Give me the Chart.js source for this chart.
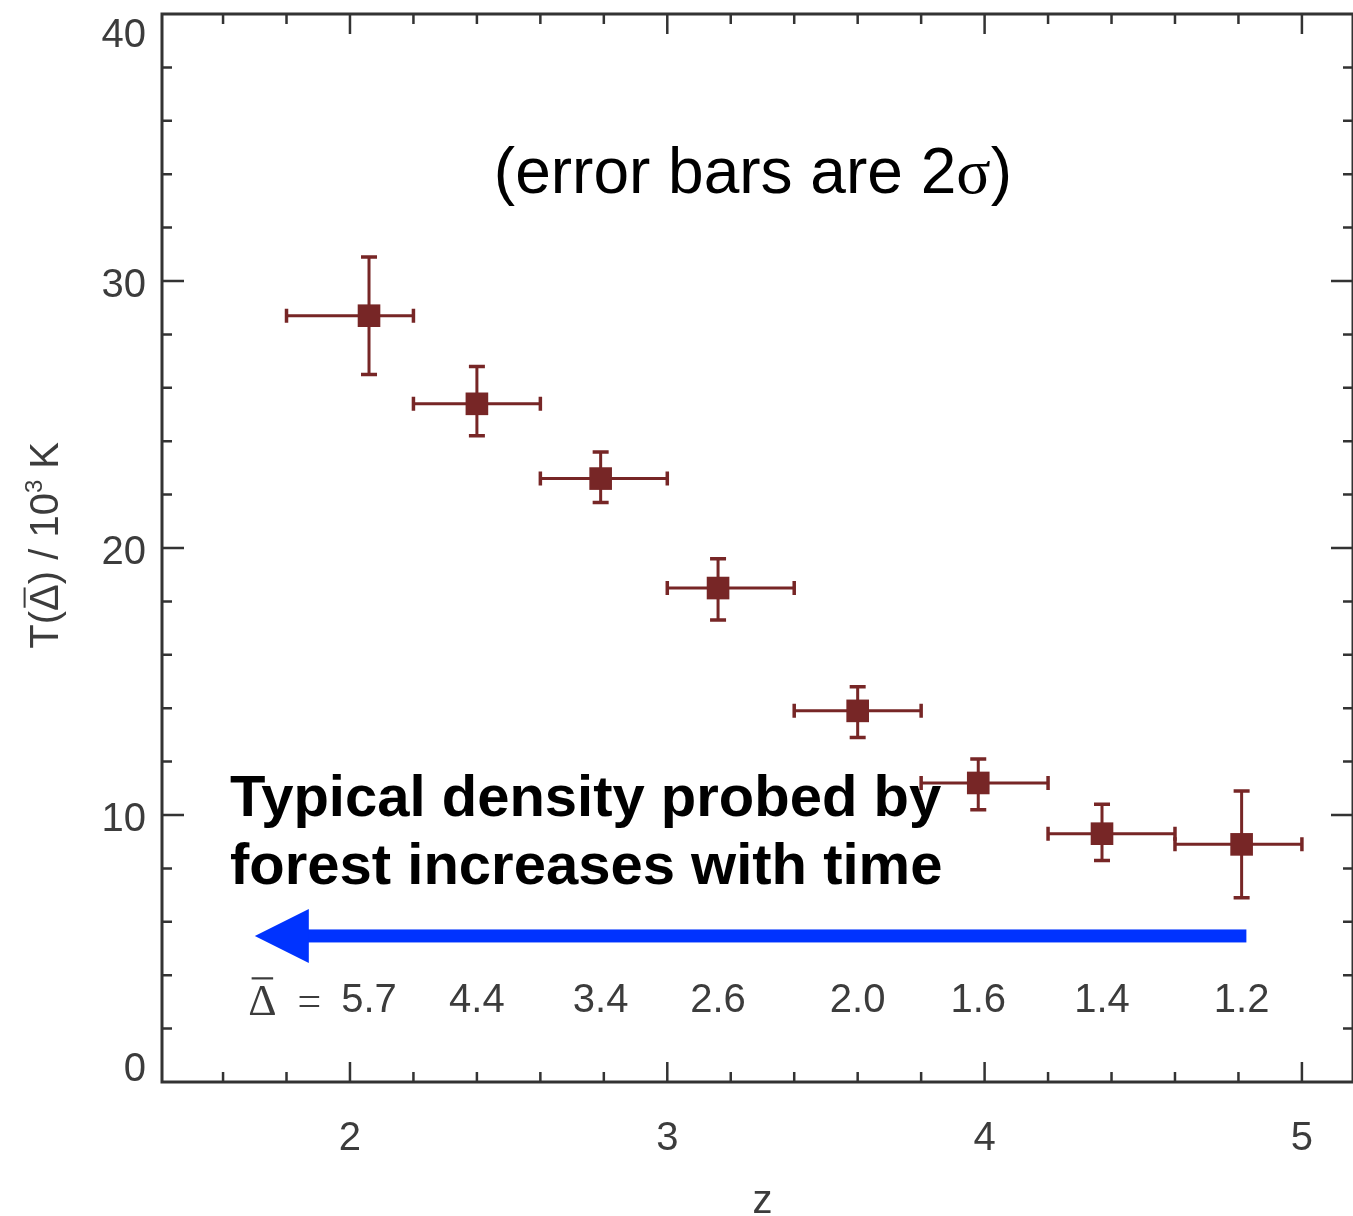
<!DOCTYPE html>
<html>
<head>
<meta charset="utf-8">
<script src="https://cdn.jsdelivr.net/npm/chart.js@4.4.0/dist/chart.umd.min.js"></script>
<style>
  html, body { margin: 0; padding: 0; background: #fff; overflow: hidden; }
  canvas { display: block; }
</style>
</head>
<body>
<canvas id="tempChart" width="1353" height="1216"></canvas>
<script>
// redshift of each bin and the bin edges
const zValues = [2.06, 2.40, 2.79, 3.16, 3.60, 3.98, 4.37, 4.81];
const zLow = [1.8, 2.2, 2.6, 3.0, 3.4, 3.8, 4.2, 4.6];
const zHigh = [2.2, 2.6, 3.0, 3.4, 3.8, 4.2, 4.6, 5.0];

// temperature in 10^3 K, with the 2 sigma limits
const tempValues = [28.7, 25.4, 22.6, 18.5, 13.9, 11.2, 9.3, 8.9];
const tempLow = [26.5, 24.2, 21.7, 17.3, 12.9, 10.2, 8.3, 6.9];
const tempHigh = [30.9, 26.8, 23.6, 19.6, 14.8, 12.1, 10.4, 10.9];

// typical overdensity probed in each bin
const deltaLabels = ['5.7', '4.4', '3.4', '2.6', '2.0', '1.6', '1.4', '1.2'];

// axis ticks
const xTickValues = [2, 3, 4, 5];
const xTickLabels = ['2', '3', '4', '5'];
const yTickValues = [0, 10, 20, 30, 40];
const yTickLabels = ['0', '10', '20', '30', '40'];

const SANS = '"Liberation Sans", Arial, Helvetica, sans-serif';
const SERIF = '"Liberation Serif", "Times New Roman", serif';
const axisColor = '#333333';
const labelColor = '#3c3c3c';
const pointColor = '#772626';
const arrowColor = '#0033ff';

// draws a run of [text, font] pieces from x; '~D' means a barred Delta
function drawPieces(ctx, pieces, x, yBase) {
  pieces.forEach(([txt, font]) => {
    ctx.font = font;
    if (txt === '~D') {
      const w = ctx.measureText('\u0394').width;
      ctx.fillText('\u0394', x, yBase);
      const size = parseFloat(font.match(/(\d+)px/)[1]);
      ctx.fillRect(x + w * 0.12, yBase - size * 0.86, w * 0.76, Math.max(2, size * 0.05));
      x += w;
    } else {
      ctx.fillText(txt, x, yBase);
      x += ctx.measureText(txt).width;
    }
  });
  return x;
}

function piecesWidth(ctx, pieces) {
  let w = 0;
  pieces.forEach(([txt, font]) => {
    ctx.font = font;
    w += ctx.measureText(txt === '~D' ? '\u0394' : txt).width;
  });
  return w;
}

// box round the plot with inward ticks on all four sides
const framePlugin = {
  id: 'frame',
  beforeDatasetsDraw(chart) {
    const { ctx, chartArea: a, scales: { x, y } } = chart;
    ctx.save();
    ctx.strokeStyle = axisColor;
    ctx.lineWidth = 3;
    ctx.strokeRect(a.left, a.top, a.right - a.left, a.bottom - a.top);

    ctx.lineWidth = 2.5;
    // x: minor every 0.2, major every 1
    for (let i = 7; i <= 26; i++) {
      const px = x.getPixelForValue(i / 5);
      if (px <= a.left + 2 || px >= a.right - 2) continue;
      const len = (i % 5 === 0) ? 20 : 10;
      ctx.beginPath();
      ctx.moveTo(px, a.bottom);
      ctx.lineTo(px, a.bottom - len);
      ctx.moveTo(px, a.top);
      ctx.lineTo(px, a.top + len);
      ctx.stroke();
    }
    // y: minor every 2, major every 10
    for (let v = 2; v < 40; v += 2) {
      const py = y.getPixelForValue(v);
      const len = (v % 10 === 0) ? 22 : 10;
      ctx.beginPath();
      ctx.moveTo(a.left, py);
      ctx.lineTo(a.left + len, py);
      ctx.moveTo(a.right, py);
      ctx.lineTo(a.right - len, py);
      ctx.stroke();
    }
    ctx.restore();
  },
  afterDraw(chart) {
    const { ctx, chartArea: a, scales: { x, y } } = chart;
    ctx.save();
    ctx.fillStyle = labelColor;
    ctx.font = '40px ' + SANS;

    ctx.textAlign = 'center';
    ctx.textBaseline = 'middle';
    xTickValues.forEach((v, i) => {
      ctx.fillText(xTickLabels[i], x.getPixelForValue(v), a.bottom + 57);
    });

    ctx.textAlign = 'right';
    yTickValues.forEach((v, i) => {
      let py = y.getPixelForValue(v) + 5;
      py = Math.min(Math.max(py, a.top + 22), a.bottom - 12);
      ctx.fillText(yTickLabels[i], a.left - 16, py);
    });

    // axis titles
    ctx.textAlign = 'center';
    ctx.fillText('z', x.getPixelForValue(3.3), a.bottom + 120);

    ctx.translate(44, y.getPixelForValue(20.1));
    ctx.rotate(-Math.PI / 2);
    ctx.textAlign = 'left';
    ctx.textBaseline = 'alphabetic';
    const f = '40px ' + SANS;
    const fs = '24px ' + SANS;
    const title = [['T(', f], ['~D', f], [') / 10', f]];
    const w = piecesWidth(ctx, title) + piecesWidth(ctx, [['3', fs]]) + piecesWidth(ctx, [[' K', f]]);
    let tx = -w / 2;
    tx = drawPieces(ctx, title, tx, 14);
    tx = drawPieces(ctx, [['3', fs]], tx, -2);
    drawPieces(ctx, [[' K', f]], tx, 14);
    ctx.restore();
  }
};

// 2 sigma error bars in both directions
const errorBarPlugin = {
  id: 'errorBars',
  beforeDatasetsDraw(chart) {
    const { ctx, scales: { x, y } } = chart;
    ctx.save();
    ctx.strokeStyle = pointColor;
    zValues.forEach((z, i) => {
      const px = x.getPixelForValue(z);
      const py = y.getPixelForValue(tempValues[i]);
      const x0 = x.getPixelForValue(zLow[i]);
      const x1 = x.getPixelForValue(zHigh[i]);
      const y0 = y.getPixelForValue(tempLow[i]);
      const y1 = y.getPixelForValue(tempHigh[i]);
      ctx.lineWidth = 3;
      ctx.beginPath();
      ctx.moveTo(x0, py); ctx.lineTo(x1, py);
      ctx.moveTo(px, y0); ctx.lineTo(px, y1);
      ctx.stroke();
      ctx.lineWidth = 3.5;
      ctx.beginPath();
      ctx.moveTo(x0, py - 7); ctx.lineTo(x0, py + 7);
      ctx.moveTo(x1, py - 7); ctx.lineTo(x1, py + 7);
      ctx.moveTo(px - 8, y0); ctx.lineTo(px + 8, y0);
      ctx.moveTo(px - 8, y1); ctx.lineTo(px + 8, y1);
      ctx.stroke();
    });
    ctx.restore();
  }
};

// notes, density row and the blue arrow
const notesPlugin = {
  id: 'notes',
  afterDatasetsDraw(chart) {
    const { ctx, scales: { x, y } } = chart;
    ctx.save();

    // (error bars are 2σ)
    const big = '64px ';
    ctx.fillStyle = '#000';
    ctx.textBaseline = 'alphabetic';
    ctx.textAlign = 'left';
    const parts = [['(error bars are 2', big + SANS], ['\u03c3', big + SERIF], [')', big + SANS]];
    const total = piecesWidth(ctx, parts);
    drawPieces(ctx, parts, x.getPixelForValue(3.27) - total / 2, y.getPixelForValue(33.3));

    // bold statement
    ctx.font = 'bold 58px ' + SANS;
    ctx.fillText('Typical density probed by', x.getPixelForValue(1.622), y.getPixelForValue(9.95));
    ctx.fillText('forest increases with time', x.getPixelForValue(1.622), y.getPixelForValue(7.4));

    // arrow towards low z
    const ay = y.getPixelForValue(5.47);
    const tail = x.getPixelForValue(4.825);
    const tip = x.getPixelForValue(1.70);
    ctx.fillStyle = arrowColor;
    ctx.fillRect(tip + 50, ay - 6.5, tail - tip - 50, 13);
    ctx.beginPath();
    ctx.moveTo(tip, ay);
    ctx.lineTo(tip + 54, ay - 27);
    ctx.lineTo(tip + 54, ay + 27);
    ctx.closePath();
    ctx.fill();

    // density labels under the points
    const ly = y.getPixelForValue(3.03);
    ctx.fillStyle = labelColor;
    ctx.textBaseline = 'middle';
    ctx.font = '40px ' + SANS;
    ctx.textAlign = 'center';
    zValues.forEach((z, i) => {
      ctx.fillText(deltaLabels[i], x.getPixelForValue(z), ly);
    });
    const firstLeft = x.getPixelForValue(zValues[0]) - ctx.measureText(deltaLabels[0]).width / 2;
    ctx.textAlign = 'left';
    ctx.textBaseline = 'alphabetic';
    const pre = [['~D', '44px ' + SERIF], ['  =', '42px ' + SERIF]];
    drawPieces(ctx, pre, firstLeft - 20 - piecesWidth(ctx, pre), ly + 14);
    ctx.restore();
  }
};

new Chart(document.getElementById('tempChart'), {
  type: 'scatter',
  data: {
    datasets: [{
      label: 'T',
      data: zValues.map((z, i) => ({ x: z, y: tempValues[i] })),
      pointStyle: 'rect',
      pointRadius: 16,
      backgroundColor: pointColor,
      borderColor: pointColor,
      borderWidth: 0
    }]
  },
  options: {
    responsive: false,
    animation: false,
    layout: {
      autoPadding: false,
      padding: { left: 162, top: 14, right: 0, bottom: 134 }
    },
    scales: {
      x: { type: 'linear', display: false, min: 1.4076, max: 5.161 },
      y: { type: 'linear', display: false, min: 0, max: 40 }
    },
    plugins: {
      legend: { display: false },
      tooltip: { enabled: false }
    }
  },
  plugins: [framePlugin, errorBarPlugin, notesPlugin]
});
</script>
</body>
</html>
